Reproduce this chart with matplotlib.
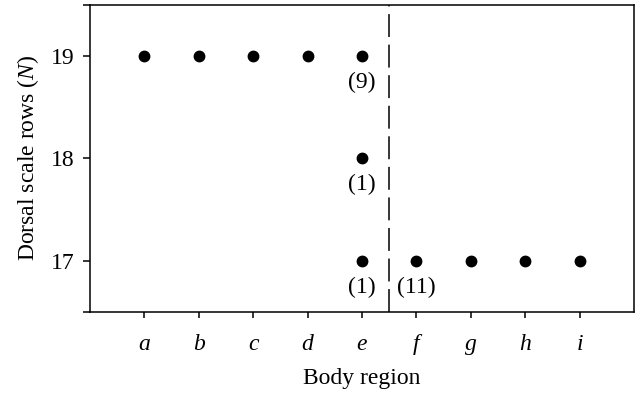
import matplotlib
matplotlib.use("Agg")
import matplotlib.pyplot as plt

plt.rcParams['font.family'] = ['Liberation Serif', 'DejaVu Serif']
plt.rcParams['mathtext.fontset'] = 'custom'
plt.rcParams['mathtext.rm'] = 'Liberation Serif'
plt.rcParams['mathtext.it'] = 'Liberation Serif:italic'

# body regions a..i and dorsal scale row counts
regions = ['a', 'b', 'c', 'd', 'e', 'f', 'g', 'h', 'i']
pt_region = [1, 2, 3, 4, 5, 5, 5, 6, 7, 8, 9]
pt_rows = [19, 19, 19, 19, 19, 18, 17, 17, 17, 17, 17]
# sample sizes shown under some points
note_region = [5, 5, 5, 6]
note_rows = [19, 18, 17, 17]
note_text = ['(9)', '(1)', '(1)', '(11)']
split_at = 5.5

fs = 17
fig = plt.figure(figsize=(6.36, 3.93), dpi=100)
ax = fig.add_axes([0.1415, 0.2061, 0.9969 - 0.1415, 0.9885 - 0.2061])

ax.plot(pt_region, pt_rows, 'o', color='black', markersize=7.5, zorder=3)
for x, y, t in zip(note_region, note_rows, note_text):
    ax.annotate(t, (x, y), xytext=(0, -19), textcoords='offset points',
                ha='center', va='center', fontsize=fs)

ax.axvline(split_at, color='black', lw=1.1, linestyle=(0, (15, 5)))

ax.set_xlim(0, 10)
ax.set_ylim(16.5, 19.5)
ax.set_xticks(range(1, 10))
ax.set_xticklabels(regions, fontstyle='italic', fontsize=fs)
ax.set_yticks([16.5, 17, 18, 19, 19.5])
ax.set_yticklabels(['', '17', '18', '19', ''], fontsize=fs)
ax.tick_params(axis='x', length=4.5, width=1.1, pad=11)
ax.tick_params(axis='y', length=5, width=1.1, pad=6)
for s in ax.spines.values():
    s.set_linewidth(1.1)

ax.set_xlabel('Body region', fontsize=fs, labelpad=10)
ax.set_ylabel('Dorsal scale rows ($\\it{N}$)', fontsize=fs, labelpad=7)

fig.savefig('out.png', dpi=100)
